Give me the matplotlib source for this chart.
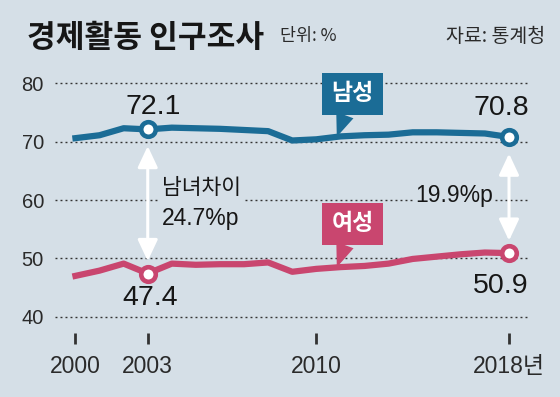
import matplotlib
matplotlib.use('Agg')
import matplotlib.pyplot as plt
import matplotlib.font_manager as fm
import numpy as np

# data
years = list(range(2000, 2019))
male = [70.6, 71.1, 72.3, 72.1, 72.4, 72.3, 72.2, 72.0, 71.8, 70.2,
        70.4, 70.9, 71.1, 71.2, 71.6, 71.6, 71.5, 71.4, 70.8]
female = [47.0, 47.9, 49.1, 47.4, 49.1, 48.9, 49.0, 49.0, 49.3, 47.7,
          48.2, 48.5, 48.7, 49.1, 49.9, 50.3, 50.7, 51.0, 50.9]
marked = [3, 18]  # 2003, 2018
gaps = ['남녀차이\n24.7%p', '19.9%p']
xticks = [2000, 2003, 2010, 2018]
xtick_labels = ['2000', '2003', '2010', '2018년']
yticks = [40, 50, 60, 70, 80]

BG = '#d5dfe7'
BLUE = '#1b6c96'
PINK = '#c9466f'
INK = '#161616'
KR = 'Noto Sans CJK KR'

names = {f.name for f in fm.fontManager.ttflist}
NARROW = 'Liberation Sans Narrow' if 'Liberation Sans Narrow' in names else 'Liberation Sans'
ARIAL = 'Liberation Sans'

fig = plt.figure(figsize=(5.6, 3.97), dpi=100, facecolor=BG)
ax = fig.add_axes([55 / 560, 64 / 397, 474 / 560, 263 / 397])
ax.set_facecolor(BG)
ax.set_xlim(1999.15, 2018.83)
ax.set_ylim(37.21, 82.28)
for s in ax.spines.values():
    s.set_visible(False)

for v in yticks:
    ax.axhline(v, color='#333333', lw=1.0, ls=(0, (1.4, 2.2)), zorder=1)

ax.set_yticks(yticks)
ax.set_yticklabels([str(v) for v in yticks], family=NARROW, fontsize=14.5, color='#2a2a2a')
ax.tick_params(axis='y', length=0, pad=8)
ax.set_xticks(xticks)
ax.set_xticklabels(xtick_labels, fontsize=16.5, color='#2a2a2a')
for lbl in ax.get_xticklabels():
    lbl.set_family([NARROW, KR])
ax.tick_params(axis='x', length=8, width=2, color='#333333', direction='out', pad=8)

for vals, col in [(male, BLUE), (female, PINK)]:
    ax.plot(years, vals, color=col, lw=4.5, solid_joinstyle='round', zorder=3,
            marker='o', markevery=marked, markersize=10.5, markeredgewidth=3.3,
            markerfacecolor='white', markeredgecolor=col)

# white double arrows between the two series
for i in marked:
    ax.annotate('', xy=(years[i], female[i]), xytext=(years[i], male[i]),
                arrowprops=dict(arrowstyle='<|-|>,head_length=1.0,head_width=0.47',
                                mutation_scale=13, lw=2.2, color='white',
                                shrinkA=12, shrinkB=9), zorder=4)

# value labels
offsets_m = [(3.8, 15.8), (-5.8, 20.9)]
offsets_f = [(1.7, -17.6), (-5.8, -23.7)]
for i, om, of in zip(marked, offsets_m, offsets_f):
    ax.annotate(f'{male[i]:.1f}', (years[i], male[i]), xytext=om, textcoords='offset points',
                ha='center', va='center', fontsize=20.5, family=ARIAL, color=INK, zorder=5)
    ax.annotate(f'{female[i]:.1f}', (years[i], female[i]), xytext=of, textcoords='offset points',
                ha='center', va='center', fontsize=20.5, family=ARIAL, color=INK, zorder=5)

# gap texts
ax.text(2003.59, 62.14, gaps[0].split('\n')[0], family=KR, fontsize=15.5, color=INK,
        ha='left', va='center', zorder=5,
        bbox=dict(boxstyle='square,pad=0.2', fc=BG, ec='none'))
ax.text(2003.59, 55.72, gaps[0].split('\n')[1], family=ARIAL, fontsize=16.5, color=INK,
        ha='left', va='baseline', zorder=5)
ax.text(2017.33, 59.66, gaps[1], family=ARIAL, fontsize=16.5, color=INK,
        ha='right', va='baseline', zorder=5,
        bbox=dict(boxstyle='square,pad=0.1', fc=BG, ec='none'))

# series tags with pointer
tag_x = 2010.85
for name, vals, col, ty in [('남성', male, BLUE, 78.17), ('여성', female, PINK, 55.89)]:
    ax.annotate(name, xy=(tag_x, np.interp(tag_x, years, vals)), xytext=(2011.51, ty),
                ha='center', va='center', fontsize=16.5, weight='bold', family=KR,
                color='white', zorder=6,
                bbox=dict(boxstyle='square,pad=0.42', fc=col, ec='none'),
                arrowprops=dict(arrowstyle='wedge,tail_width=0.8,shrink_factor=0.5',
                                fc=col, ec='none', shrinkA=0, shrinkB=0))

fig.text(27 / 560, 1 - 38 / 397, '경제활동 인구조사', family=KR, fontsize=22.5, weight='heavy',
         color=INK, ha='left', va='center')
fig.text(280 / 560, 1 - 36 / 397, '단위: %', family=KR, fontsize=12.5, color='#2a2a2a',
         ha='left', va='center')
fig.text(545 / 560, 1 - 36 / 397, '자료: 통계청', family=KR, fontsize=14, color='#2a2a2a',
         ha='right', va='center')

fig.savefig('out.png', dpi=100, facecolor=BG)
